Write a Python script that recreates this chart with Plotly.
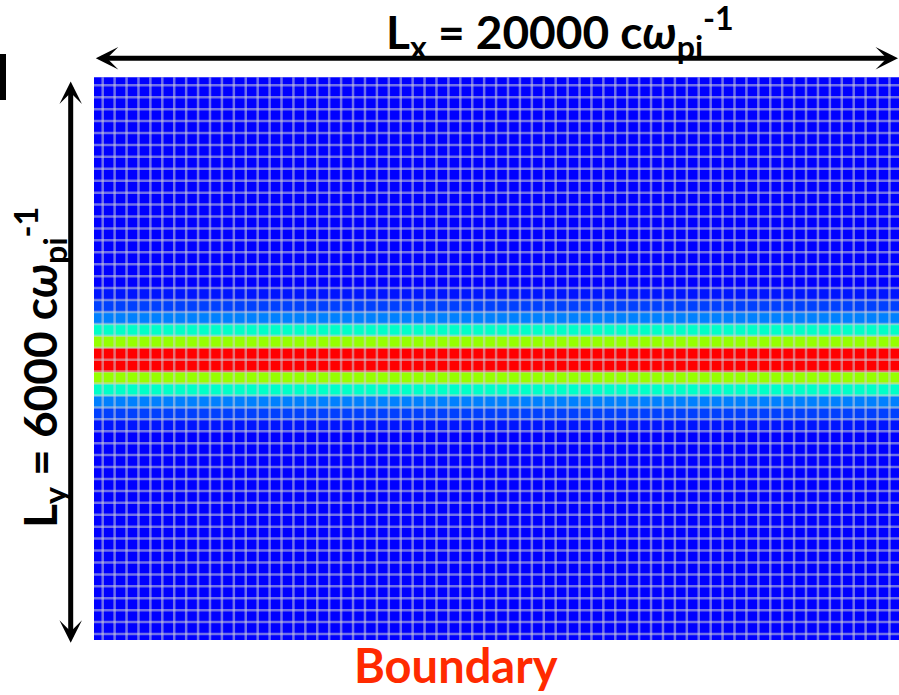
import plotly.graph_objects as go

# ---- data ----
# normalised density of each grid row, bottom row first (48 rows)
row_density = [0, 0, 0, 0, 0, 0, 0, 0, 0, 0, 0, 0, 0, 0, 0, 0, 0, 0,
               0.04, 0.125, 0.25, 0.5, 0.75, 1.0, 1.0, 0.75, 0.5, 0.25, 0.125, 0.04,
               0, 0, 0, 0, 0, 0, 0, 0, 0, 0, 0, 0, 0, 0, 0, 0, 0, 0]
n_columns = 68            # grid cells across
n_vlines = 67             # mesh lines across (x = 0 .. 66)
n_hlines = 47             # mesh lines up (y = 0 .. 46)

top_label = "L<sub>x</sub> = 20000 c<i>ω</i><sub>pi</sub><sup>-1</sup>"
left_label = "L<sub>y</sub> = 6000 c<i>ω</i><sub>pi</sub><sup>-1</sup>"
bottom_label = "Boundary"

W, H = 899, 695

x_centers = [i - 0.5 for i in range(n_columns)]
y_centers = [j - 0.5 for j in range(len(row_density))]
z = [[v] * n_columns for v in row_density]

colorscale = [
    [0.0, "rgb(0,0,255)"],
    [0.125, "rgb(0,64,255)"],
    [0.25, "rgb(0,128,255)"],
    [0.5, "rgb(0,255,200)"],
    [0.75, "rgb(150,255,0)"],
    [1.0, "rgb(255,0,0)"],
]

fig = go.Figure()
fig.add_trace(go.Heatmap(x=x_centers, y=y_centers, z=z, zmin=0, zmax=1,
                         colorscale=colorscale, showscale=False, hoverinfo="skip"))

# mesh lines
gx, gy = [], []
for k in range(n_vlines):
    gx += [k, k, None]
    gy += [-2, len(row_density) + 1, None]
for k in range(n_hlines):
    gx += [-2, n_columns + 1, None]
    gy += [k, k, None]
fig.add_trace(go.Scatter(x=gx, y=gy, mode="lines", hoverinfo="skip",
                         line=dict(color="rgba(205,205,215,0.55)", width=2.5),
                         showlegend=False))

def px(x):
    return x / W

def py(y):
    return (H - y) / H

fig.update_layout(
    width=W, height=H,
    margin=dict(l=0, r=0, t=0, b=0),
    paper_bgcolor="white", plot_bgcolor="white",
    showlegend=False,
    xaxis=dict(domain=[px(94), 1.0], range=[-0.73, 66.8], visible=False, fixedrange=True),
    yaxis=dict(domain=[py(640), py(77.3)], range=[-0.5, 46.67], visible=False, fixedrange=True),
)

font_big = dict(family="Lato", size=46, color="black", weight="bold")

arrow_style = dict(text="", showarrow=True, axref="pixel", ayref="pixel",
                   arrowhead=3, startarrowhead=3, arrowside="end+start",
                   arrowsize=0.75, startarrowsize=0.75, arrowwidth=5, arrowcolor="black",
                   standoff=0, startstandoff=0)
# top arrow
fig.add_annotation(xref="paper", yref="paper", x=px(898), y=py(58.3),
                   ax=-(898 - 94.3), ay=0, **arrow_style)
# left arrow
fig.add_annotation(xref="paper", yref="paper", x=px(70.7), y=py(642.7),
                   ax=0, ay=-(642.7 - 80), **arrow_style)

fig.add_annotation(xref="paper", yref="paper", x=px(560), y=py(32),
                   text=top_label, showarrow=False, font=font_big,
                   xanchor="center", yanchor="middle")
fig.add_annotation(xref="paper", yref="paper", x=px(40), y=py(368),
                   text=left_label, showarrow=False, font=font_big, textangle=-90,
                   xanchor="center", yanchor="middle")
fig.add_annotation(xref="paper", yref="paper", x=px(456), y=py(665),
                   text=bottom_label, showarrow=False,
                   font=dict(family="Lato", size=47, color="#ff2a00", weight="bold"),
                   xanchor="center", yanchor="middle")

# cut-off mark at top-left edge
fig.add_shape(type="rect", xref="paper", yref="paper",
              x0=0, x1=px(6), y0=py(100), y1=py(54),
              fillcolor="black", line=dict(width=0))

fig.write_html("out.html")
